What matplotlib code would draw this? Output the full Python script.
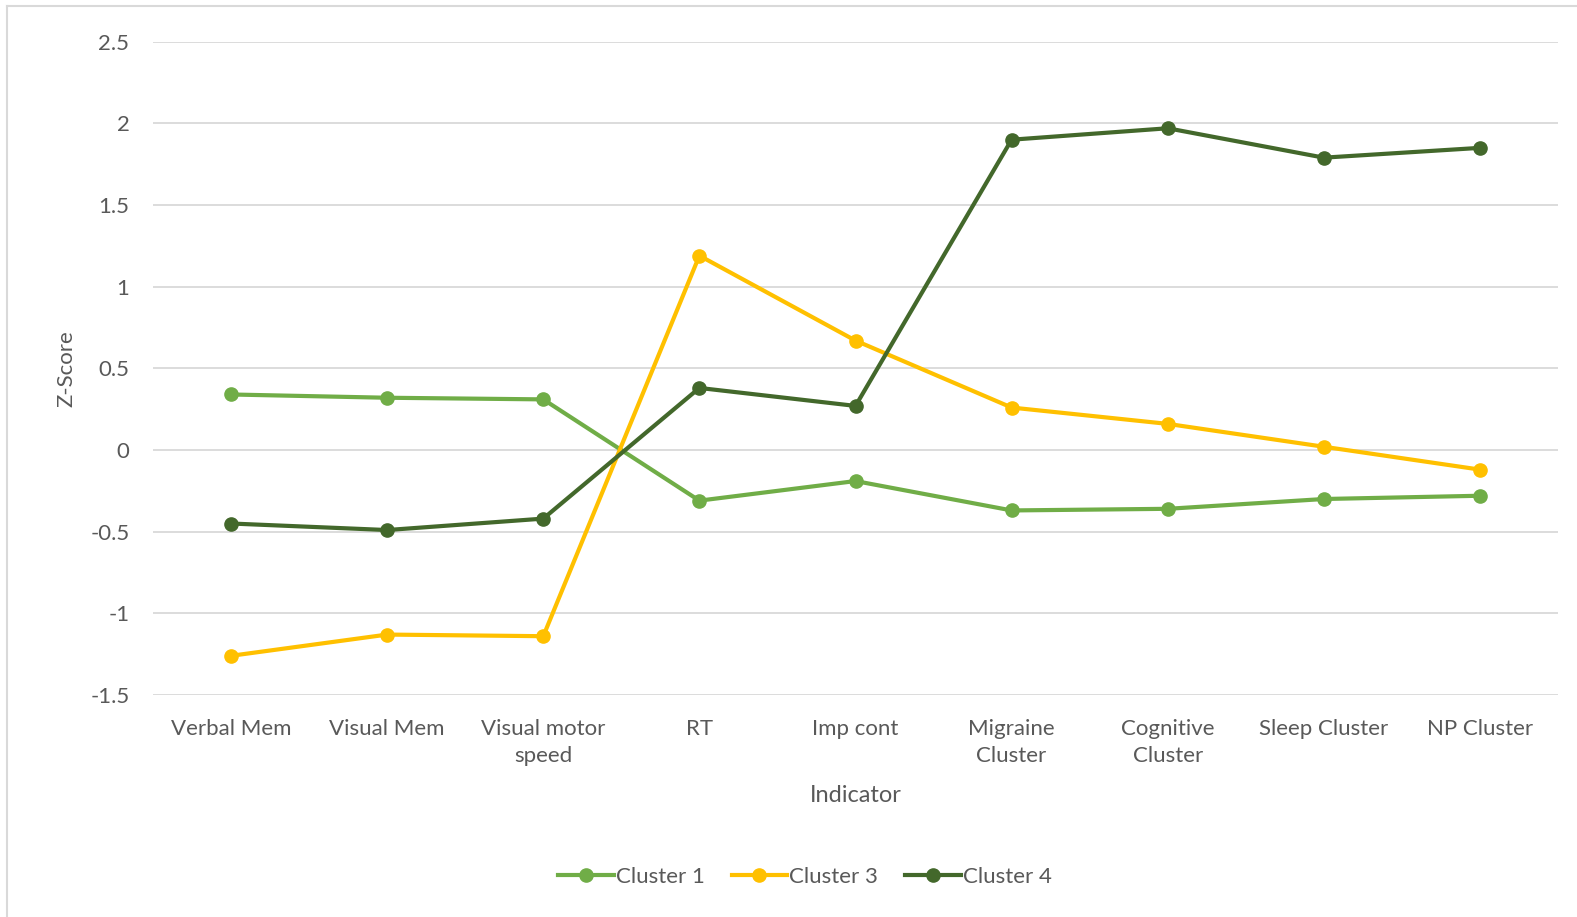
import matplotlib
matplotlib.use("Agg")
import matplotlib.pyplot as plt
from matplotlib.lines import Line2D

# ---- data ----
indicators = ["Verbal Mem", "Visual Mem", "Visual motor\nspeed", "RT", "Imp cont",
              "Migraine\nCluster", "Cognitive\nCluster", "Sleep Cluster", "NP Cluster"]
cluster1 = [0.34, 0.32, 0.31, -0.31, -0.19, -0.37, -0.36, -0.30, -0.28]
cluster3 = [-1.26, -1.13, -1.14, 1.19, 0.67, 0.26, 0.16, 0.02, -0.12]
cluster4 = [-0.45, -0.49, -0.42, 0.38, 0.27, 1.90, 1.97, 1.79, 1.85]
series_names = ["Cluster 1", "Cluster 3", "Cluster 4"]
series_colors = ["#70AD47", "#FFC000", "#43682B"]
yticks = [-1.5, -1, -0.5, 0, 0.5, 1, 1.5, 2, 2.5]

TXT = "#595959"
FS = 16
plt.rcParams["font.family"] = ["Lato", "DejaVu Sans"]

W, H = 1577, 917
fig = plt.figure(figsize=(W / 100, H / 100), dpi=100)
ax = fig.add_axes([153 / W, 1 - 695 / H, (1558 - 153) / W, (695 - 41.7) / H])

x = range(len(indicators))
for vals, name, col in zip([cluster1, cluster3, cluster4], series_names, series_colors):
    ax.plot(x, vals, color=col, lw=3.0, marker="o", ms=9.5, label=name,
            solid_capstyle="round", zorder=3)

ax.set_xlim(-0.5, len(indicators) - 0.5)
ax.set_ylim(-1.5, 2.5)
ax.set_yticks(yticks)
ax.set_yticklabels([f"{v:g}" for v in yticks])
ax.set_xticks(list(x))
ax.set_xticklabels(indicators, linespacing=1.45)
ax.grid(axis="y", color="#D9D9D9", lw=1.3, zorder=0)
for s in ax.spines.values():
    s.set_visible(False)
ax.tick_params(axis="both", length=0, colors=TXT, labelsize=FS)
ax.tick_params(axis="y", pad=17)
ax.tick_params(axis="x", pad=17)
ax.set_xlabel("Indicator", color=TXT, fontsize=17, labelpad=14)
ax.set_ylabel("Z-Score", color=TXT, fontsize=FS, labelpad=10)

handles = [Line2D([], [], color=c, lw=3.0, marker="o", ms=9.5) for c in series_colors]
fig.legend(handles, series_names, loc="center", bbox_to_anchor=(805 / W, 1 - 877 / H),
           ncol=3, frameon=False, fontsize=FS, labelcolor=TXT, handlelength=2.5,
           handletextpad=0.1, columnspacing=1.2)

# outer chart border (top and left visible in the reference)
fig.add_artist(Line2D([7 / W, 1], [1 - 6 / H, 1 - 6 / H], color="#D9D9D9", lw=1.5))
fig.add_artist(Line2D([7 / W, 7 / W], [0, 1 - 6 / H], color="#D9D9D9", lw=1.5))

fig.savefig("out.png", dpi=100, facecolor="white")
